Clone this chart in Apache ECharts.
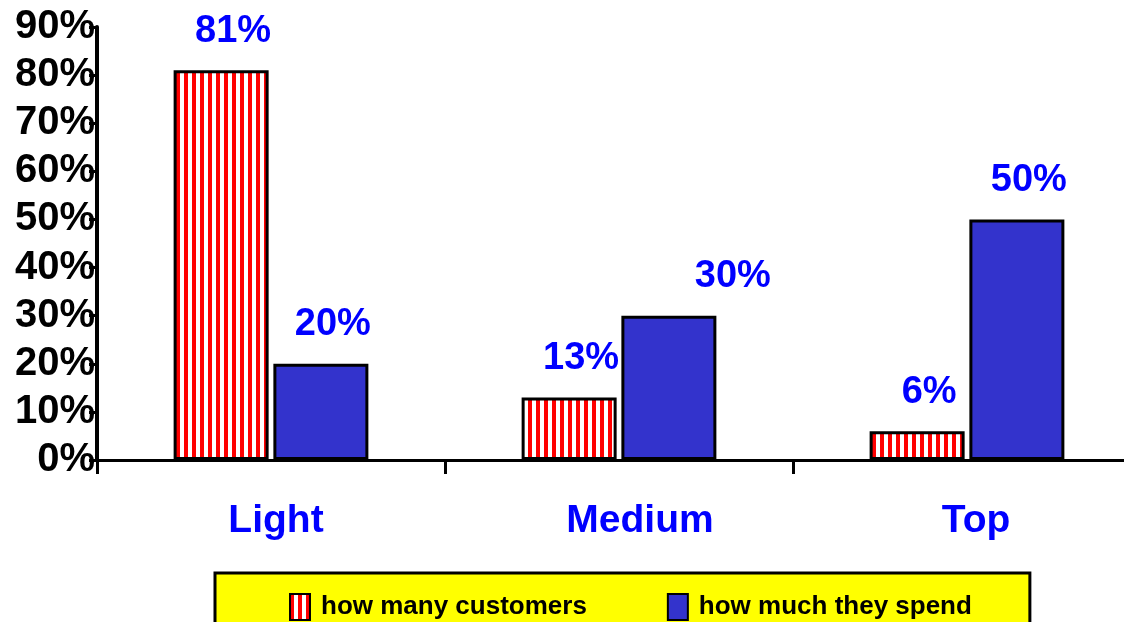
<!DOCTYPE html>
<html>
<head>
<meta charset="utf-8">
<script src="https://cdn.jsdelivr.net/npm/echarts@6/dist/echarts.min.js"></script>
<style>
  html, body { margin: 0; padding: 0; background: #fff; }
  #chart { width: 1124px; height: 622px; }
</style>
</head>
<body>
<div id="chart"></div>
<script>
// data
const categories = ['Light', 'Medium', 'Top']
const customers = [81, 13, 6]     // how many customers (%)
const spend = [20, 30, 50]        // how much they spend (%)
const yTicks = { min: 0, max: 90, step: 10 }

const FONT = '"Liberation Sans", Arial, sans-serif'

// red / white vertical stripes
function stripes () {
  const c = document.createElement('canvas')
  c.width = 8
  c.height = 8
  const ctx = c.getContext('2d')
  ctx.fillStyle = '#ffffff'
  ctx.fillRect(0, 0, 8, 8)
  ctx.fillStyle = '#ff0000'
  ctx.fillRect(0, 0, 4, 8)
  return c
}

const labelStyle = {
  show: true,
  position: 'top',
  distance: 20,
  offset: [12, 0],
  formatter: '{c}%',
  color: '#0000ff',
  fontFamily: FONT,
  fontWeight: 'bold',
  fontSize: 38
}

// category labels are not quite centred in the original
const catShift = [10, 42, 18]

const chart = echarts.init(document.getElementById('chart'))
chart.setOption({
  animation: false,
  textStyle: { fontFamily: FONT },
  grid: { left: 97, top: 27, height: 433, width: 1044, outerBoundsMode: 'none', containLabel: false },
  legend: {
    left: 215,
    top: 573,
    padding: [20, 58, 20, 74],
    backgroundColor: '#ffff00',
    borderColor: '#000',
    borderWidth: 3,
    icon: 'rect',
    itemWidth: 20,
    itemHeight: 26,
    itemGap: 80,
    textStyle: {
      color: '#000',
      fontWeight: 'bold',
      fontSize: 26,
      fontFamily: FONT,
      padding: [0, 0, 0, 6]
    },
    data: ['how many customers', 'how much they spend']
  },
  xAxis: {
    type: 'category',
    data: categories.map((c, i) => ({ value: c, textStyle: { padding: [0, 0, 0, catShift[i]] } })),
    axisLine: { lineStyle: { color: '#000', width: 3 } },
    axisTick: { show: true, length: 14, lineStyle: { color: '#000', width: 3 } },
    axisLabel: {
      margin: 42,
      color: '#0000ff',
      fontWeight: 'bold',
      fontSize: 39,
      fontFamily: FONT
    }
  },
  yAxis: {
    type: 'value',
    min: yTicks.min,
    max: yTicks.max,
    interval: yTicks.step,
    splitLine: { show: false },
    axisLine: { show: true, lineStyle: { color: '#000', width: 4 } },
    axisTick: { show: true, length: 8, lineStyle: { color: '#000', width: 3 } },
    axisLabel: {
      margin: 2,
      padding: [12, 0, 0, 0],
      formatter: '{value}%',
      color: '#000',
      fontWeight: 'bold',
      fontSize: 40,
      fontFamily: FONT
    }
  },
  series: [
    {
      name: 'how many customers',
      type: 'bar',
      barWidth: 95,
      barGap: '5%',
      data: customers,
      itemStyle: {
        color: { image: stripes(), repeat: 'repeat' },
        borderColor: '#000',
        borderWidth: 3
      },
      label: labelStyle
    },
    {
      name: 'how much they spend',
      type: 'bar',
      barWidth: 95,
      data: spend.map((v, i) => i === 1 ? { value: v, label: { offset: [64, 0] } } : v),
      itemStyle: {
        color: '#3333cc',
        borderColor: '#000',
        borderWidth: 3
      },
      label: labelStyle
    }
  ]
})
</script>
</body>
</html>
